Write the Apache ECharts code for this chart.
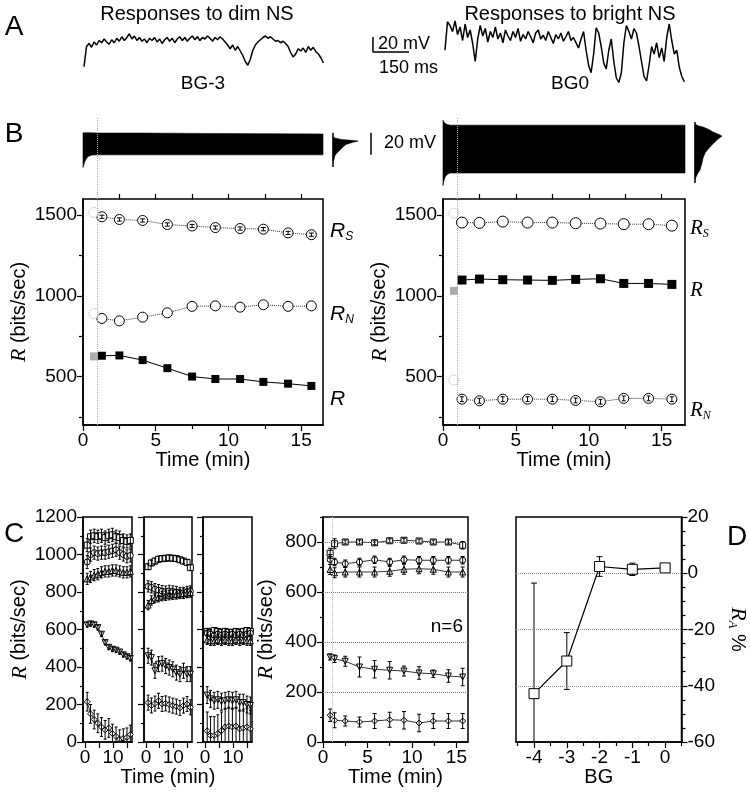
<!DOCTYPE html>
<html><head><meta charset="utf-8">
<script src="https://cdn.jsdelivr.net/npm/echarts@6/dist/echarts.min.js"></script>
<style>html,body{margin:0;padding:0;background:#fff}#c{width:750px;height:792px}</style>
</head><body><div id="c"></div>
<script>
const SANS = '"Liberation Sans", Arial, Helvetica, sans-serif';
const SERIF = '"Liberation Serif", "Times New Roman", Times, serif';

// ================= DATA =================
// Panel A: voltage traces (mV), sampled every traceDtMs
const traceDtMs = 10.5;
const brightTraceStartMs = 1504;
const dimTraceMv = [23,50,54,49,56, 52,58,55,60,56,53,59,55,61,57,63,58,62,67,60,64,
 58,62,57,60,55,61,58,62,56,60,54,59,62,57,61,55,60,63,
 58,62,57,61,64,59,63,58,62,60,64,61,57,62,59,63,60,56,52,
 47,52,45,50,44, 38,30,25,33,45, 52,56,59,62,64,61,63,60,57,
 58,55,57,54,50,42, 36,40,47, 44,48,42,50,45,49,43,40,35,28];
const brightTraceMv = [45,83,78,70, 84,66,76,58,80,62,72,54,30,60,78,64,74,56,70,62,
 76,60,68,55,72,64,58,70,62,74,57,66,60,70,63,55,68,72,60,65,58,70,62,54,66,60,68,57,63,70,58,62,55,
 48,60,70,45,25,15, 40,75,68,50, 28,20,45,60, 30,8,2,15,55, 78,70,60,74,68,50,
 30,10,4,25,50, 40,55,35,48,30,62,80,58,40, 45,22,10,3];

// Panel B top: envelope of continuous recording (mV) vs time (min)
const dimEnvTime  = [0, 0.03, 0.1, 0.2, 0.35, 0.6, 1, 4, 8, 12, 16.5];
const dimEnvUpper = [22, 22, 22, 22, 22, 22, 21.8, 21.8, 21.5, 21.3, 21];
const dimEnvLower = [-9.5, -8, -5, -2, 0.5, 1.8, 2, 2, 2, 2, 2];
const brightEnvTime  = [0, 0.05, 0.15, 0.3, 0.5, 1, 4, 8, 12, 16.6];
const brightEnvUpper = [33.5, 32, 30.5, 29.5, 29, 29, 29, 29, 29, 29];
const brightEnvLower = [-26, -22, -18, -15.5, -14.5, -14.5, -14.5, -14.5, -14.5, -14.5];
// amplitude histograms (count, mV)
const dimHistCount = [0, 2, 8, 18, 25, 20, 13, 10, 7, 4, 2, 1, 0];
const dimHistMv    = [18.5, 17.3, 16, 15.2, 14.6, 13.5, 11.5, 9.1, 6.5, 3.7, 1.5, -2, -4];
const brightHistCount = [0, 3, 8, 14, 18, 24, 27, 24, 22, 18, 15, 12, 10, 8, 7, 5, 3, 1, 0];
const brightHistMv    = [30, 28.5, 27.3, 25, 22.7, 20.5, 19.1, 17, 15.5, 12, 9.1, 6, 3.7, -1, -5.5, -11.8, -14.5, -18, -20];

// Panel B: information rates (bits/sec)
const bTimes = [1.3, 2.5, 4.1, 5.8, 7.5, 9.1, 10.8, 12.4, 14.1, 15.7];
const bFirstTime = 0.75;
const dimRs = [1490, 1473, 1467, 1442, 1433, 1423, 1417, 1413, 1390, 1379];
const dimRsErr = [10, 10, 10, 10, 10, 10, 10, 10, 10, 10];
const dimRn = [860, 845, 868, 895, 935, 938, 930, 945, 935, 938];
const dimR  = [629, 631, 602, 552, 500, 485, 485, 467, 456, 442];
const dimFirstRs = 1517, dimFirstRn = 890, dimFirstR = 625;
const brightRs = [1454, 1452, 1460, 1454, 1454, 1450, 1448, 1444, 1444, 1435];
const brightRsErr = [12, 12, 12, 12, 12, 12, 12, 12, 12, 12];
const brightR  = [1098, 1104, 1100, 1098, 1096, 1102, 1106, 1077, 1077, 1071];
const brightRErr = [20, 20, 20, 20, 20, 20, 20, 20, 20, 20];
const brightRn = [360, 350, 360, 360, 360, 352, 344, 365, 365, 360];
const brightRnErr = [15, 15, 15, 15, 15, 15, 15, 15, 15, 15];
const brightFirstRs = 1512, brightFirstR = 1031, brightFirstRn = 479;

// Panel C: three example cells
const cTimes = [0.8, 2.0, 3.3, 4.6, 5.9, 7.2, 8.5, 9.8, 11.1, 12.4, 13.7, 15.0, 16.2];
const c1Sq   = [1050, 1095, 1100, 1095, 1100, 1090, 1100, 1105, 1095, 1090, 1075, 1070, 1075];
const c1Circ = [960, 1000, 1010, 1005, 1010, 1010, 1015, 1020, 1025, 1010, 1000, 990, 995];
const c1Up   = [870, 880, 890, 895, 905, 910, 910, 915, 915, 910, 905, 905, 910];
const c1Down = [625, 630, 625, 610, 575, 530, 505, 495, 490, 480, 465, 455, 445];
const c1Dia  = [215, 150, 120, 100, 80, 65, 75, 45, 30, 15, 20, 25, 40];
const c1Err  = {sq: 35, circ: 35, up: 30, down: 12, dia: 50};
const c2Sq   = [935, 955, 965, 975, 978, 980, 982, 980, 978, 972, 965, 958, 930];
const c2Circ = [830, 825, 815, 810, 805, 802, 806, 803, 800, 795, 795, 800, 803];
const c2Up   = [730, 755, 768, 772, 778, 780, 783, 785, 787, 790, 792, 795, 798];
const c2Down = [460, 450, 380, 415, 418, 405, 397, 388, 370, 362, 380, 362, 362];
const c2Dia  = [210, 195, 205, 220, 203, 206, 200, 194, 189, 182, 194, 203, 185];
const c2Err  = {sq: 15, circ: 30, up: 25, down: 40, dia: 40};
const c3Sq   = [590, 585, 595, 590, 585, 590, 585, 585, 590, 585, 590, 595, 590];
const c3Circ = [580, 575, 570, 575, 570, 575, 570, 575, 570, 575, 570, 575, 580];
const c3Up   = [545, 540, 540, 545, 540, 545, 540, 540, 545, 540, 545, 540, 540];
const c3Down = [250, 230, 220, 225, 215, 220, 225, 220, 225, 210, 210, 200, 195];
const c3Dia  = [60, 35, 35, 45, 60, 80, 85, 80, 85, 70, 75, 80, 70];
const c3Err  = {sq: 15, circ: 15, up: 25, down: 45, dia: 100};

// Panel C: mean of n=6
const n6Times = [0.8, 1.3, 2.5, 4.1, 5.8, 7.5, 9.1, 10.8, 12.4, 14.1, 15.7];
const n6Sq   = [755, 793, 800, 800, 797, 805, 807, 804, 800, 800, 787];
const n6Circ = [730, 720, 713, 720, 729, 720, 729, 727, 727, 727, 727];
const n6Up   = [690, 677, 680, 680, 680, 683, 691, 693, 691, 680, 680];
const n6Down = [340, 333, 323, 300, 291, 287, 284, 276, 273, 264, 260];
const n6Dia  = [107, 87, 84, 80, 84, 89, 87, 76, 84, 84, 84];
const n6SqErr   = [20, 20, 8, 8, 8, 8, 8, 8, 8, 8, 15];
const n6CircErr = [20, 15, 15, 15, 15, 15, 15, 15, 15, 15, 15];
const n6UpErr   = [20, 20, 20, 20, 20, 20, 20, 20, 20, 20, 20];
const n6DownErr = [12, 15, 20, 40, 35, 35, 20, 25, 15, 25, 35];
const n6DiaErr  = [25, 30, 20, 20, 30, 30, 35, 35, 30, 30, 30];

// Panel D
const dBG = [-4, -3, -2, -1, 0];
const dRA = [-42.8, -31.2, 2.4, 1.4, 1.9];
const dRAErr = [39.3, 10.1, 3.5, 2.2, 1.2];

// ================= BUILD =================
const LBL = 19, NAME = 20;
const grids = [], xAxes = [], yAxes = [], series = [];
function axis(min, max, o) {
  o = o || {};
  return {
    type: 'value', min: min, max: max, position: o.position,
    axisLine: {show: !!o.line, onZero: false, lineStyle: {color: '#000', width: 1.5}},
    axisTick: o.ticks ? {show: true, inside: false, length: o.tickLen || 6, customValues: o.ticks, lineStyle: {color: '#000', width: 1.2}} : {show: false},
    axisLabel: o.labels ? {show: true, customValues: o.labels, color: '#000', fontFamily: SANS, fontSize: LBL, margin: o.margin || 6,
      formatter: function (v) { return String(v); }} : {show: false},
    splitLine: {show: false},
    name: o.name || '', nameLocation: 'middle', nameGap: o.nameGap || 20, nameRotate: o.nameRotate,
    nameTextStyle: {color: '#000', fontFamily: SANS, fontSize: NAME, rich: o.rich}
  };
}
function addGrid(g, xa, ya, boxed) {
  const gi = grids.length;
  grids.push(Object.assign({show: !!boxed, borderColor: '#000', borderWidth: 1.5, backgroundColor: 'transparent'}, g));
  xa.gridIndex = gi; ya.gridIndex = gi;
  if (!xa.position) xa.position = 'bottom';
  if (!ya.position) ya.position = 'left';
  const xi = xAxes.length; xAxes.push(xa);
  const yi = yAxes.length; yAxes.push(ya);
  return {gi: gi, xi: xi, yi: yi};
}
function extraX(ax, min, max, o) { const a = axis(min, max, o); a.gridIndex = ax.gi; if (!a.position) a.position = 'bottom'; xAxes.push(a); }
function extraY(ax, min, max, o) { const a = axis(min, max, o); a.gridIndex = ax.gi; if (!a.position) a.position = 'left'; yAxes.push(a); }
const openSym = {color: '#fff', borderColor: '#000', borderWidth: 1};
function lineS(ax, xs, ys, o) {
  o = o || {};
  return {type: 'line', xAxisIndex: ax.xi, yAxisIndex: ax.yi,
    data: xs.map((x, i) => [x, ys[i]]),
    symbol: o.symbol || 'none', symbolSize: o.size || 6, symbolRotate: o.rotate || 0,
    showSymbol: !!o.symbol, itemStyle: o.item || openSym,
    lineStyle: {color: o.color || '#000', width: o.width || 1, type: o.type || 'solid'},
    z: o.z || 3, silent: true, animation: false, clip: false, markLine: o.markLine};
}
function scatterS(ax, xs, ys, o) {
  return {type: 'scatter', xAxisIndex: ax.xi, yAxisIndex: ax.yi, data: xs.map((x, i) => [x, ys[i]]),
    symbol: o.symbol, symbolSize: o.size, itemStyle: o.item, z: o.z || 3, silent: true, animation: false};
}
function errS(ax, xs, ys, errs, cap, z) {
  return {type: 'custom', xAxisIndex: ax.xi, yAxisIndex: ax.yi, clip: true, silent: true, animation: false, z: z || 4,
    data: xs.map((x, i) => [x, ys[i] - errs[i], ys[i] + errs[i]]),
    encode: {x: 0, y: [1, 2]},
    renderItem: function (p, api) {
      const x = api.value(0);
      const a = api.coord([x, api.value(1)]), b = api.coord([x, api.value(2)]);
      const st = {stroke: '#000', lineWidth: 1};
      return {type: 'group', children: [
        {type: 'line', shape: {x1: a[0], y1: a[1], x2: b[0], y2: b[1]}, style: st},
        {type: 'line', shape: {x1: a[0] - cap, y1: a[1], x2: a[0] + cap, y2: a[1]}, style: st},
        {type: 'line', shape: {x1: b[0] - cap, y1: b[1], x2: b[0] + cap, y2: b[1]}, style: st}]};
    }};
}
function polyS(ax, pts, fill, z) {
  return {type: 'custom', xAxisIndex: ax.xi, yAxisIndex: ax.yi, silent: true, animation: false, z: z || 2,
    data: pts, encode: {x: 0, y: 1},
    renderItem: function (p, api) {
      if (p.dataIndex !== 0) return null;
      return {type: 'polygon', shape: {points: pts.map(q => api.coord(q))}, style: {fill: fill, stroke: fill, lineWidth: 0.6}};
    }};
}
function vDotted(x, color) {
  return {silent: true, symbol: 'none', label: {show: false}, animation: false,
    lineStyle: {color: color, type: 'dotted', width: 1}, data: [{xAxis: x}]};
}
function range(a, b, s) { const r = []; for (let v = a; v <= b + 1e-9; v += s) r.push(+v.toFixed(3)); return r; }
const rName = '{r|R} (bits/sec)';
const rRich = {r: {fontFamily: SERIF, fontStyle: 'italic', fontSize: 22, color: '#000'}};

// ---- Panel A ----
const gA = addGrid({left: 84, top: 18, width: 603, height: 66}, axis(0, 2512.5), axis(0, 88));
series.push(lineS(gA, dimTraceMv.map((v, i) => i * traceDtMs), dimTraceMv, {width: 1.5}));
series.push(lineS(gA, brightTraceMv.map((v, i) => brightTraceStartMs + i * traceDtMs), brightTraceMv, {width: 1.5}));
const sbT = 1204, sbV = 42.7;
series.push(lineS(gA, [sbT + 150, sbT, sbT], [sbV, sbV, sbV + 20], {width: 1.5}));

// ---- Panel B traces ----
const TRMIN = -38.1, TRMAX = 35.5;
function envPts(t, u, l) { return t.map((x, i) => [x, u[i]]).concat(t.map((x, i) => [x, l[i]]).reverse()); }
function histPts(c, v) { return c.map((x, i) => [x, v[i]]); }
const gBLt = addGrid({left: 83, top: 118, width: 240, height: 81}, axis(0, 16.5), axis(TRMIN, TRMAX));
series.push(polyS(gBLt, envPts(dimEnvTime, dimEnvUpper, dimEnvLower), '#000', 2));
series.push(lineS(gBLt, [1, 1], [TRMAX, TRMAX], {color: 'transparent', z: 5, markLine: vDotted(1, '#aaa')}));
const gBLh = addGrid({left: 333, top: 118, width: 45, height: 81}, axis(0, 45), axis(TRMIN, TRMAX));
series.push(polyS(gBLh, histPts(dimHistCount, dimHistMv), '#000', 2));
series.push(lineS(gBLh, [0, 0], [-9, 22], {width: 1.5}));
series.push(lineS(gBLh, [38, 38], [2, 22], {width: 1.5}));
const gBRt = addGrid({left: 443, top: 118, width: 242, height: 81}, axis(0, 16.6), axis(TRMIN, TRMAX));
series.push(polyS(gBRt, envPts(brightEnvTime, brightEnvUpper, brightEnvLower), '#000', 2));
series.push(lineS(gBRt, [1, 1], [TRMAX, TRMAX], {color: 'transparent', z: 5, markLine: vDotted(1, '#aaa')}));
const gBRh = addGrid({left: 695, top: 118, width: 40, height: 81}, axis(0, 40), axis(TRMIN, TRMAX));
series.push(polyS(gBRh, histPts(brightHistCount, brightHistMv), '#000', 2));
series.push(lineS(gBRh, [0, 0], [-23.6, 31.9], {width: 1.5}));

// ---- Panel B plots ----
function bPlot(left, width, xmax, yGap) {
  const ax = addGrid({left: left, top: 199, width: width, height: 226},
    axis(0, xmax, {line: true, ticks: [0, 5, 10, 15], labels: [0, 5, 10, 15], name: 'Time (min)', nameGap: 23}),
    axis(200, 1600, {line: true, ticks: [500, 1000, 1500], labels: [500, 1000, 1500], name: rName, rich: rRich, nameGap: yGap}), true);
  extraX(ax, 0, xmax, {ticks: [2.5, 7.5, 12.5], tickLen: 4});
  extraX(ax, 0, xmax, {position: 'top', ticks: [2.5, 5, 7.5, 10, 12.5, 15], tickLen: 5});
  extraY(ax, 200, 1600, {ticks: [250, 750, 1250], tickLen: 4});
  return ax;
}
const gBL = bPlot(83, 240, 16.5, 53);
const gBR = bPlot(443, 242, 16.6, 52);
const grayDotCirc = {color: '#fff', borderColor: '#999', borderWidth: 1, borderType: 'dotted'};
series.push(lineS(gBL, bTimes, dimRs, {symbol: 'circle', size: 10, type: 'dotted', color: '#333', markLine: vDotted(1, '#aaa')}));
series.push(errS(gBL, bTimes, dimRs, dimRsErr, 2.5, 5));
series.push(lineS(gBL, bTimes, dimRn, {symbol: 'circle', size: 10, type: 'dotted', color: '#333'}));
series.push(lineS(gBL, bTimes, dimR, {symbol: 'rect', size: 8, item: {color: '#000'}}));
series.push(scatterS(gBL, [bFirstTime, bFirstTime], [dimFirstRs, dimFirstRn], {symbol: 'circle', size: 10, item: grayDotCirc}));
series.push(scatterS(gBL, [bFirstTime], [dimFirstR], {symbol: 'rect', size: 8, item: {color: '#999'}}));
series.push(errS(gBR, bTimes, brightRs, brightRsErr, 2, 2));
series.push(lineS(gBR, bTimes, brightRs, {symbol: 'circle', size: 11, type: 'dotted', color: '#333', markLine: vDotted(1, '#aaa')}));
series.push(errS(gBR, bTimes, brightR, brightRErr, 2.5, 2));
series.push(lineS(gBR, bTimes, brightR, {symbol: 'rect', size: 9, item: {color: '#000'}}));
series.push(lineS(gBR, bTimes, brightRn, {symbol: 'circle', size: 10, type: 'dotted', color: '#333'}));
series.push(errS(gBR, bTimes, brightRn, brightRnErr, 2, 5));
series.push(scatterS(gBR, [bFirstTime, bFirstTime], [brightFirstRs, brightFirstRn], {symbol: 'circle', size: 10, item: grayDotCirc}));
series.push(scatterS(gBR, [bFirstTime], [brightFirstR], {symbol: 'rect', size: 8, item: {color: '#999'}}));

// ---- Panel C small multiples ----
function cSmall(left, width, withLabels, xName) {
  const ax = addGrid({left: left, top: 517, width: width, height: 225},
    axis(-0.7, 16.8, {line: true, ticks: [0, 5, 10, 15], labels: [0, 10], name: xName || '', nameGap: 25}),
    axis(0, 1200, {line: true, ticks: range(0, 1200, 200), labels: withLabels ? range(0, 1200, 200) : null,
      name: withLabels ? rName : '', rich: rRich, nameGap: 52}), true);
  extraY(ax, 0, 1200, {ticks: range(100, 1100, 200), tickLen: 3});
  return ax;
}
function cSeries(ax, xs, sets, capW) {
  const defs = [['sq', 'rect', 0], ['circ', 'circle', 0], ['up', 'triangle', 0], ['down', 'triangle', 180], ['dia', 'diamond', 0]];
  defs.forEach(d => {
    const ys = sets[d[0]], e = sets.err[d[0]];
    const errs = Array.isArray(e) ? e : ys.map(() => e);
    series.push(lineS(ax, xs, ys, {symbol: d[1], rotate: d[2], size: 6, width: 0.8}));
    series.push(errS(ax, xs, ys, errs, capW, 4));
  });
}
const gC1 = cSmall(83, 49, true);
const gC2 = cSmall(144, 48, false, 'Time (min)');
const gC3 = cSmall(203, 49, false);
cSeries(gC1, cTimes, {sq: c1Sq, circ: c1Circ, up: c1Up, down: c1Down, dia: c1Dia, err: c1Err}, 1.5);
cSeries(gC2, cTimes, {sq: c2Sq, circ: c2Circ, up: c2Up, down: c2Down, dia: c2Dia, err: c2Err}, 1.5);
cSeries(gC3, cTimes, {sq: c3Sq, circ: c3Circ, up: c3Up, down: c3Down, dia: c3Dia, err: c3Err}, 1.5);

// ---- Panel C mean n=6 ----
const gC4 = addGrid({left: 323, top: 517, width: 145, height: 225},
  axis(0, 16.3, {line: true, ticks: [0, 5, 10, 15], labels: [0, 5, 10, 15], name: 'Time (min)', nameGap: 25}),
  axis(0, 900, {line: true, ticks: range(0, 800, 200), labels: range(0, 800, 200), name: rName, rich: rRich, nameGap: 46}), true);
extraX(gC4, 0, 16.3, {ticks: [2.5, 7.5, 12.5], tickLen: 4});
extraY(gC4, 0, 900, {ticks: range(100, 900, 200), tickLen: 3});
series.push(lineS(gC4, [0, 0], [0, 0], {color: 'transparent', markLine: {silent: true, symbol: 'none', label: {show: false}, animation: false,
  lineStyle: {color: '#777', type: 'dotted', width: 1}, data: [{yAxis: 200}, {yAxis: 400}, {yAxis: 600}, {yAxis: 800}]}}));
series.push(lineS(gC4, [0, 0], [0, 0], {color: 'transparent', markLine: vDotted(1, '#bbb')}));
cSeries(gC4, n6Times, {sq: n6Sq, circ: n6Circ, up: n6Up, down: n6Down, dia: n6Dia,
  err: {sq: n6SqErr, circ: n6CircErr, up: n6UpErr, down: n6DownErr, dia: n6DiaErr}}, 2);

// ---- Panel D ----
const gD = addGrid({left: 516, top: 517, width: 169, height: 225},
  axis(-4.55, 0.5, {line: true, ticks: [-4, -3, -2, -1, 0], labels: [-4, -3, -2, -1, 0], name: 'BG', nameGap: 25}),
  axis(-60, 20, {line: true, position: 'right', ticks: range(-60, 20, 20), labels: range(-60, 20, 20),
    name: '{r|R}{s|A} %', nameRotate: -90, nameGap: 44,
    rich: {r: {fontFamily: SERIF, fontStyle: 'italic', fontSize: 22, color: '#000'},
           s: {fontFamily: SERIF, fontStyle: 'italic', fontSize: 13, color: '#000', padding: [12, 0, 0, 0]}}}), true);
extraX(gD, -4.55, 0.5, {ticks: [-4.5, -3.5, -2.5, -1.5, -0.5, 0.5], tickLen: 4});
extraY(gD, -60, 20, {position: 'right', ticks: range(-55, 15, 5).filter(v => v % 20 !== 0), tickLen: 4});
series.push(lineS(gD, [0, 0], [0, 0], {color: 'transparent', markLine: {silent: true, symbol: 'none', label: {show: false}, animation: false,
  lineStyle: {color: '#888', type: 'dotted', width: 1}, data: [{yAxis: 0}, {yAxis: -20}, {yAxis: -40}]}}));
series.push(errS(gD, dBG, dRA, dRAErr, 3, 2));
series.push(lineS(gD, dBG, dRA, {symbol: 'rect', size: 10, width: 1.2}));

// ---- text ----
function txt(x, y, text, size, align, extra) {
  return {type: 'text', x: x, y: y, silent: true, z: 10,
    style: Object.assign({text: text, fill: '#000', fontFamily: SANS, fontSize: size, align: align || 'center', verticalAlign: 'middle'}, extra || {})};
}
function subLabel(x, y, main, sub, family) {
  return txt(x, y, sub ? '{r|' + main + '}{s|' + sub + '}' : '{r|' + main + '}', 20, 'left', {rich: {
    r: {fontFamily: family, fontStyle: 'italic', fontSize: 21, color: '#000'},
    s: {fontFamily: family, fontStyle: 'italic', fontSize: 12, color: '#000', padding: [11, 0, 0, 0]}}});
}
const graphic = [
  txt(14, 27, 'A', 28), txt(14, 134, 'B', 28), txt(14, 534, 'C', 28), txt(737, 537, 'D', 28),
  txt(197, 14, 'Responses to dim NS', 20), txt(570, 14, 'Responses to bright NS', 20),
  txt(203, 84, 'BG-3', 19), txt(570, 84, 'BG0', 19),
  txt(378, 44, '20 mV', 18, 'left'), txt(379, 68, '150 ms', 18, 'left'),
  txt(384, 143, '20 mV', 18, 'left'),
  subLabel(330, 231, 'R', 'S', SANS), subLabel(330, 314, 'R', 'N', SANS), subLabel(330, 399, 'R', '', SANS),
  subLabel(690, 228, 'R', 'S', SERIF), subLabel(690, 290, 'R', '', SERIF), subLabel(690, 410, 'R', 'N', SERIF),
  txt(463, 627, 'n=6', 19, 'right')
];

const chart = echarts.init(document.getElementById('c'), null, {renderer: 'canvas'});
chart.setOption({animation: false, backgroundColor: '#fff', grid: grids, xAxis: xAxes, yAxis: yAxes, series: series, graphic: graphic});
</script></body></html>
